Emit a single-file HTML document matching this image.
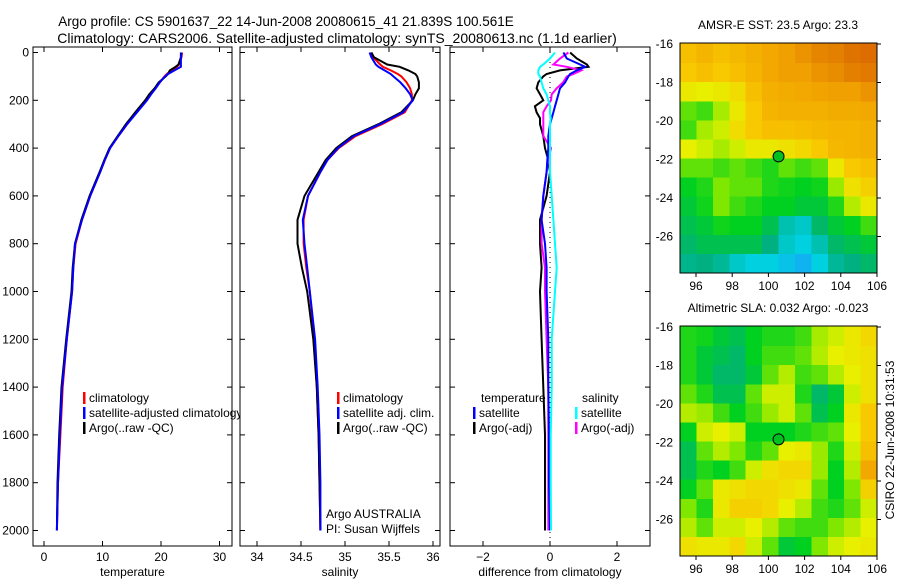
<!DOCTYPE html>
<html><head><meta charset="utf-8">
<style>
html,body{margin:0;padding:0;background:#fff;width:900px;height:580px;overflow:hidden}
svg text{font-family:"Liberation Sans",sans-serif;fill:#000}
</style></head>
<body>
<svg id="chart" width="900" height="580" xmlns="http://www.w3.org/2000/svg">
<text x="286" y="26" font-size="13.5" text-anchor="middle">Argo profile: CS 5901637_22 14-Jun-2008 20080615_41 21.839S 100.561E</text>
<text x="337" y="43" font-size="14" text-anchor="middle">Climatology: CARS2006. Satellite-adjusted climatology: synTS_20080613.nc (1.1d earlier)</text>
<defs><clipPath id="clipP1"><rect x="33" y="40" width="207" height="520"/></clipPath></defs>
</svg>
<script>
// ---------- data ----------
const depthsTS = [0,20,50,60,75,90,100,125,150,175,200,250,300,350,400,450,500,600,700,800,900,1000,1200,1400,1600,1800,2000];
const tempClim = [23.6,23.5,23.1,22.7,21.8,21.0,20.6,19.8,19.0,18.2,17.5,15.8,14.2,12.7,11.3,10.4,9.6,7.9,6.5,5.4,5.0,4.8,3.9,3.2,2.8,2.4,2.2];
const tempSat  = [23.5,23.4,23.4,23.4,22.3,21.2,20.7,19.8,19.1,18.3,17.6,15.9,14.2,12.7,11.3,10.4,9.6,7.9,6.5,5.3,5.0,4.8,3.9,3.1,2.7,2.4,2.2];
const tempArgo = [23.4,23.4,23.0,22.5,21.5,21.2,20.8,19.6,18.9,18.0,17.3,15.6,14.0,12.6,11.2,10.3,9.5,7.8,6.4,5.3,4.9,4.7,3.8,3.0,2.6,2.3,2.2];
const salClim = [35.30,35.32,35.40,35.43,35.52,35.60,35.64,35.70,35.74,35.76,35.76,35.68,35.42,35.12,34.93,34.80,34.72,34.58,34.53,34.53,34.56,34.60,34.65,34.68,34.70,34.71,34.72];
const salSat  = [35.28,35.30,35.35,35.38,35.45,35.52,35.55,35.63,35.69,35.74,35.77,35.66,35.40,35.10,34.92,34.80,34.72,34.58,34.52,34.54,34.57,34.60,34.66,34.69,34.71,34.72,34.72];
const salArgo = [35.30,35.33,35.48,35.62,35.72,35.80,35.82,35.84,35.84,35.80,35.77,35.64,35.38,35.08,34.90,34.78,34.70,34.54,34.46,34.46,34.51,34.57,34.64,34.68,34.70,34.71,34.72];
const diffDepths = [0,25,50,60,75,90,100,125,150,175,200,225,250,275,300,350,400,450,500,600,700,800,900,1000,1200,1400,1600,1800,2000];
const tDiffSat  = [0.4,0.5,0.9,1.05,0.8,0.6,0.55,0.45,0.3,0.25,0.2,0.15,0.1,0.05,0.0,-0.05,-0.05,-0.08,-0.1,-0.2,-0.25,-0.15,-0.1,-0.1,-0.05,-0.05,-0.03,-0.03,0.0];
const tDiffArgo = [0.6,0.8,1.1,1.15,0.3,-0.1,-0.2,-0.35,-0.4,-0.3,-0.2,-0.45,-0.4,-0.3,-0.3,-0.2,-0.15,-0.05,0.0,-0.1,-0.3,-0.3,-0.25,-0.3,-0.25,-0.2,-0.15,-0.15,-0.15];
const sDiffSat  = [0.15,0.0,-0.2,-0.3,-0.35,-0.35,-0.3,-0.25,-0.2,-0.1,-0.05,0.0,0.0,0.02,0.0,0.0,0.0,0.0,0.0,0.05,0.1,0.15,0.2,0.15,0.05,0.05,0.02,0.02,0.03];
const sDiffArgo = [0.55,0.3,0.1,0.5,0.93,0.7,0.5,0.39,0.2,0.05,0.03,-0.1,-0.2,-0.2,-0.2,-0.2,0.03,-0.05,-0.1,-0.2,-0.25,-0.25,-0.15,-0.15,-0.1,-0.05,-0.05,-0.05,-0.05];
const depthTicks = [0,200,400,600,800,1000,1200,1400,1600,1800,2000];
const tempTicks = [0,10,20,30];
const salTicks = [34,34.5,35,35.5,36];
const diffTicks = [-2,0,2];
const lonTicks = [96,98,100,102,104,106];
const latTicks = [-16,-18,-20,-22,-24,-26];
const argoLon = 100.561, argoLat = -21.839;
const sstGrid = [
[0.72,0.75,0.72,0.74,0.76,0.78,0.80,0.82,0.84,0.85,0.87,0.88],
[0.70,0.72,0.70,0.72,0.75,0.78,0.80,0.80,0.82,0.83,0.85,0.86],
[0.62,0.60,0.62,0.65,0.72,0.76,0.77,0.78,0.79,0.80,0.80,0.82],
[0.50,0.48,0.55,0.62,0.70,0.75,0.76,0.76,0.76,0.77,0.77,0.78],
[0.48,0.55,0.58,0.65,0.70,0.72,0.72,0.73,0.74,0.75,0.75,0.76],
[0.60,0.58,0.55,0.58,0.62,0.62,0.64,0.66,0.70,0.74,0.75,0.76],
[0.50,0.50,0.48,0.50,0.48,0.46,0.50,0.48,0.50,0.62,0.70,0.72],
[0.44,0.46,0.52,0.50,0.50,0.46,0.45,0.44,0.45,0.54,0.64,0.68],
[0.42,0.45,0.52,0.48,0.46,0.44,0.44,0.42,0.42,0.46,0.56,0.62],
[0.40,0.42,0.45,0.44,0.44,0.40,0.32,0.30,0.38,0.42,0.44,0.48],
[0.38,0.40,0.40,0.40,0.40,0.36,0.30,0.28,0.32,0.38,0.40,0.42],
[0.35,0.36,0.34,0.30,0.28,0.28,0.26,0.24,0.28,0.34,0.36,0.38]];
const slaGrid = [
[0.46,0.45,0.42,0.40,0.44,0.46,0.46,0.48,0.55,0.58,0.62,0.66],
[0.46,0.42,0.40,0.38,0.44,0.48,0.48,0.50,0.56,0.60,0.62,0.64],
[0.46,0.42,0.38,0.38,0.42,0.50,0.56,0.48,0.50,0.56,0.60,0.64],
[0.50,0.46,0.40,0.40,0.50,0.58,0.58,0.46,0.38,0.42,0.58,0.64],
[0.56,0.54,0.48,0.44,0.48,0.54,0.58,0.50,0.40,0.44,0.62,0.70],
[0.44,0.58,0.60,0.58,0.44,0.44,0.44,0.46,0.48,0.50,0.60,0.70],
[0.40,0.50,0.56,0.52,0.46,0.50,0.60,0.62,0.54,0.46,0.58,0.72],
[0.40,0.46,0.44,0.48,0.58,0.64,0.66,0.66,0.54,0.44,0.56,0.78],
[0.44,0.50,0.62,0.64,0.66,0.66,0.64,0.62,0.50,0.44,0.52,0.68],
[0.52,0.46,0.62,0.68,0.68,0.66,0.60,0.56,0.48,0.46,0.50,0.58],
[0.56,0.50,0.58,0.58,0.60,0.56,0.50,0.48,0.48,0.52,0.56,0.60],
[0.64,0.62,0.62,0.66,0.58,0.50,0.42,0.44,0.52,0.58,0.60,0.62]];

// ---------- helpers ----------
const NS="http://www.w3.org/2000/svg";
const svg=document.getElementById('chart');
function mk(tag,attrs,parent){const e=document.createElementNS(NS,tag);for(const k in attrs)e.setAttribute(k,attrs[k]);(parent||svg).appendChild(e);return e;}
function txt(s,x,y,size,anchor,parent){const t=mk('text',{x:x,y:y,'font-size':size,'text-anchor':anchor||'start'},parent);t.textContent=s;return t;}
const yTop=47,yBot=546;
const yScale=d=>52.5+d*0.239;
const panels=[
 {name:'temperature',x0:33,x1:232,xs:v=>44+v*5.85,ticks:tempTicks,label:'temperature'},
 {name:'salinity',x0:240,x1:440,xs:v=>257+(v-34)*88,ticks:salTicks,label:'salinity'},
 {name:'difference',x0:450,x1:650,xs:v=>550+v*33.5,ticks:diffTicks,label:'difference from climatology'}];

panels.forEach((p,i)=>{
  const g=mk('g',{});
  
  
  const fr=mk('rect',{x:p.x0,y:yTop,width:p.x1-p.x0,height:yBot-yTop,fill:'#fff',stroke:'#000','stroke-width':1},g);
  
  
  depthTicks.forEach(d=>{
    const y=yScale(d);
    mk('line',{x1:p.x0,x2:p.x0+5,y1:y,y2:y,stroke:'#000'},g);
    mk('line',{x1:p.x1-5,x2:p.x1,y1:y,y2:y,stroke:'#000'},g);
    if(i===0){const t=txt(String(d),29,y+4,12,'end',g);
      
      }
  });
  p.ticks.forEach(v=>{
    const x=p.xs(v);
    mk('line',{x1:x,x2:x,y1:yTop,y2:yTop+5,stroke:'#000'},g);
    mk('line',{x1:x,x2:x,y1:yBot-5,y2:yBot,stroke:'#000'},g);
    const t=txt(String(v).replace('-','\u2212'),x,561,12,'middle',g);
    
    
  });
  const xl=txt(p.label,(p.x0+p.x1)/2,576,12,'middle',g);
  
  
  p.g=g;
});

function line(panel,depths,vals,color,name){
  const pts=depths.map((d,k)=>panel.xs(vals[k]).toFixed(1)+','+yScale(d).toFixed(1)).join(' ');
  const l=mk('polyline',{points:pts,fill:'none',stroke:color,'stroke-width':2},panel.g);
  
  
}
const zl=mk('line',{x1:panels[2].xs(0),x2:panels[2].xs(0),y1:yTop,y2:yBot,stroke:'#000','stroke-dasharray':'1,4'},panels[2].g);



line(panels[0],depthsTS,tempClim,'#ff0000','temp-climatology-line');
line(panels[0],depthsTS,tempArgo,'#000000','temp-argo-line');
line(panels[0],depthsTS,tempSat,'#0000ff','temp-satellite-line');
line(panels[1],depthsTS,salClim,'#ff0000','sal-climatology-line');
line(panels[1],depthsTS,salArgo,'#000000','sal-argo-line');
line(panels[1],depthsTS,salSat,'#0000ff','sal-satellite-line');
line(panels[2],diffDepths,tDiffArgo,'#000000','temp-diff-argo-line');
line(panels[2],diffDepths,sDiffArgo,'#ff00ff','sal-diff-argo-line');
line(panels[2],diffDepths,tDiffSat,'#0000ff','temp-diff-satellite-line');
line(panels[2],diffDepths,sDiffSat,'#00ffff','sal-diff-satellite-line');

function legEntry(parent,x,y,color,label,name){
  const g=mk('g',{},parent);
  
  
  mk('rect',{x:x,y:y-10,width:2.5,height:12,fill:color},g);
  txt(label,x+6,y,12,'start',g);
}
const lg1=mk('g',{'clip-path':'url(#clipP1)'},panels[0].g);


legEntry(lg1,83,402,'#ff0000','climatology','legend-climatology');
legEntry(lg1,83,417,'#0000ff','satellite-adjusted climatology','legend-satellite');
legEntry(lg1,83,432,'#000000','Argo(..raw -QC)','legend-argo');
const lg2=mk('g',{},panels[1].g);


legEntry(lg2,337,402,'#ff0000','climatology','legend-climatology');
legEntry(lg2,337,417,'#0000ff','satellite adj. clim.','legend-satellite');
legEntry(lg2,337,432,'#000000','Argo(..raw -QC)','legend-argo');
const a1=txt('Argo AUSTRALIA',326,518,12,'start',panels[1].g);


const a2=txt('PI: Susan Wijffels',326,533,12,'start',panels[1].g);


const lg3=mk('g',{},panels[2].g);


const h1=txt('temperature',481,402,12,'start',lg3);


const h2=txt('salinity',582,402,12,'start',lg3);


legEntry(lg3,473,417,'#0000ff','satellite','legend-temp-satellite');
legEntry(lg3,473,432,'#000000','Argo(-adj)','legend-temp-argo');
legEntry(lg3,575,417,'#00ffff','satellite','legend-sal-satellite');
legEntry(lg3,575,432,'#ff00ff','Argo(-adj)','legend-sal-argo');

// ---------- maps ----------
const stops=[[0.20,[32,150,255]],[0.28,[0,208,224]],[0.36,[0,176,128]],[0.44,[0,208,32]],[0.52,[128,232,0]],[0.60,[232,240,0]],[0.70,[248,200,0]],[0.80,[240,160,0]],[0.90,[216,96,0]]];
function cmap(v){
  if(v<=stops[0][0])return 'rgb('+stops[0][1]+')';
  for(let k=1;k<stops.length;k++){if(v<=stops[k][0]){const a=stops[k-1],b=stops[k],t=(v-a[0])/(b[0]-a[0]);
    return 'rgb('+a[1].map((c,j)=>Math.round(c+(b[1][j]-c)*t)).join(',')+')';}}
  return 'rgb('+stops[stops.length-1][1]+')';
}
function drawMap(name,title,grid,top){
  const g=mk('g',{});
  
  
  const x0=680,x1=877,y0=top,y1=top+230;
  const lonS=v=>877-(106-v)*18.1;
  const latS=v=>y0+1+(-16-v)*19.25;
  const lonMin=106-(x1-x0)/18.1, latMin=-16-(y1-y0-1)/19.25;
  const rows=grid.length, cols=grid[0].length;
  const dLon=(106-lonMin)/cols, dLat=(-16-latMin)/rows;
  const cg=mk('g',{'shape-rendering':'crispEdges'},g);
  for(let r=0;r<rows;r++)for(let c=0;c<cols;c++){
    const xa=lonS(lonMin+c*dLon), xb=lonS(lonMin+(c+1)*dLon);
    const ya=r===0?y0:latS(-16-r*dLat), yb=latS(-16-(r+1)*dLat);
    const cell=mk('rect',{x:xa,y:ya,width:xb-xa+0.5,height:yb-ya+0.5,fill:cmap(grid[r][c])},cg);
    
    
  }
  const fr=mk('rect',{x:x0,y:y0,width:x1-x0,height:y1-y0,fill:'none',stroke:'#000'},g);
  
  
  lonTicks.forEach(v=>{const x=lonS(v);mk('line',{x1:x,x2:x,y1:y1,y2:y1+4,stroke:'#000'},g);
    const t=txt(String(v),x,y1+17,12,'middle',g);
    
    });
  latTicks.forEach(v=>{const y=latS(v);mk('line',{x1:x1,x2:x1+4,y1:y,y2:y,stroke:'#000'},g);
    const t=txt(String(v),673,y+4,12,'end',g);
    
    });
  const tt=txt(title,778,top-14,12,'middle',g);
  
  
  const m=mk('circle',{cx:lonS(argoLon),cy:latS(argoLat),r:5.5,fill:'#00c020',stroke:'#000','stroke-width':1},g);
  
  
}
drawMap('sst-map','AMSR-E SST: 23.5 Argo: 23.3',sstGrid,43);
drawMap('sla-map','Altimetric SLA: 0.032 Argo: -0.023',slaGrid,326);
const stamp=txt('CSIRO 22-Jun-2008 10:31:53',0,0,12,'middle');
stamp.setAttribute('transform','translate(894,440) rotate(-90)');


</script>
</body></html>
